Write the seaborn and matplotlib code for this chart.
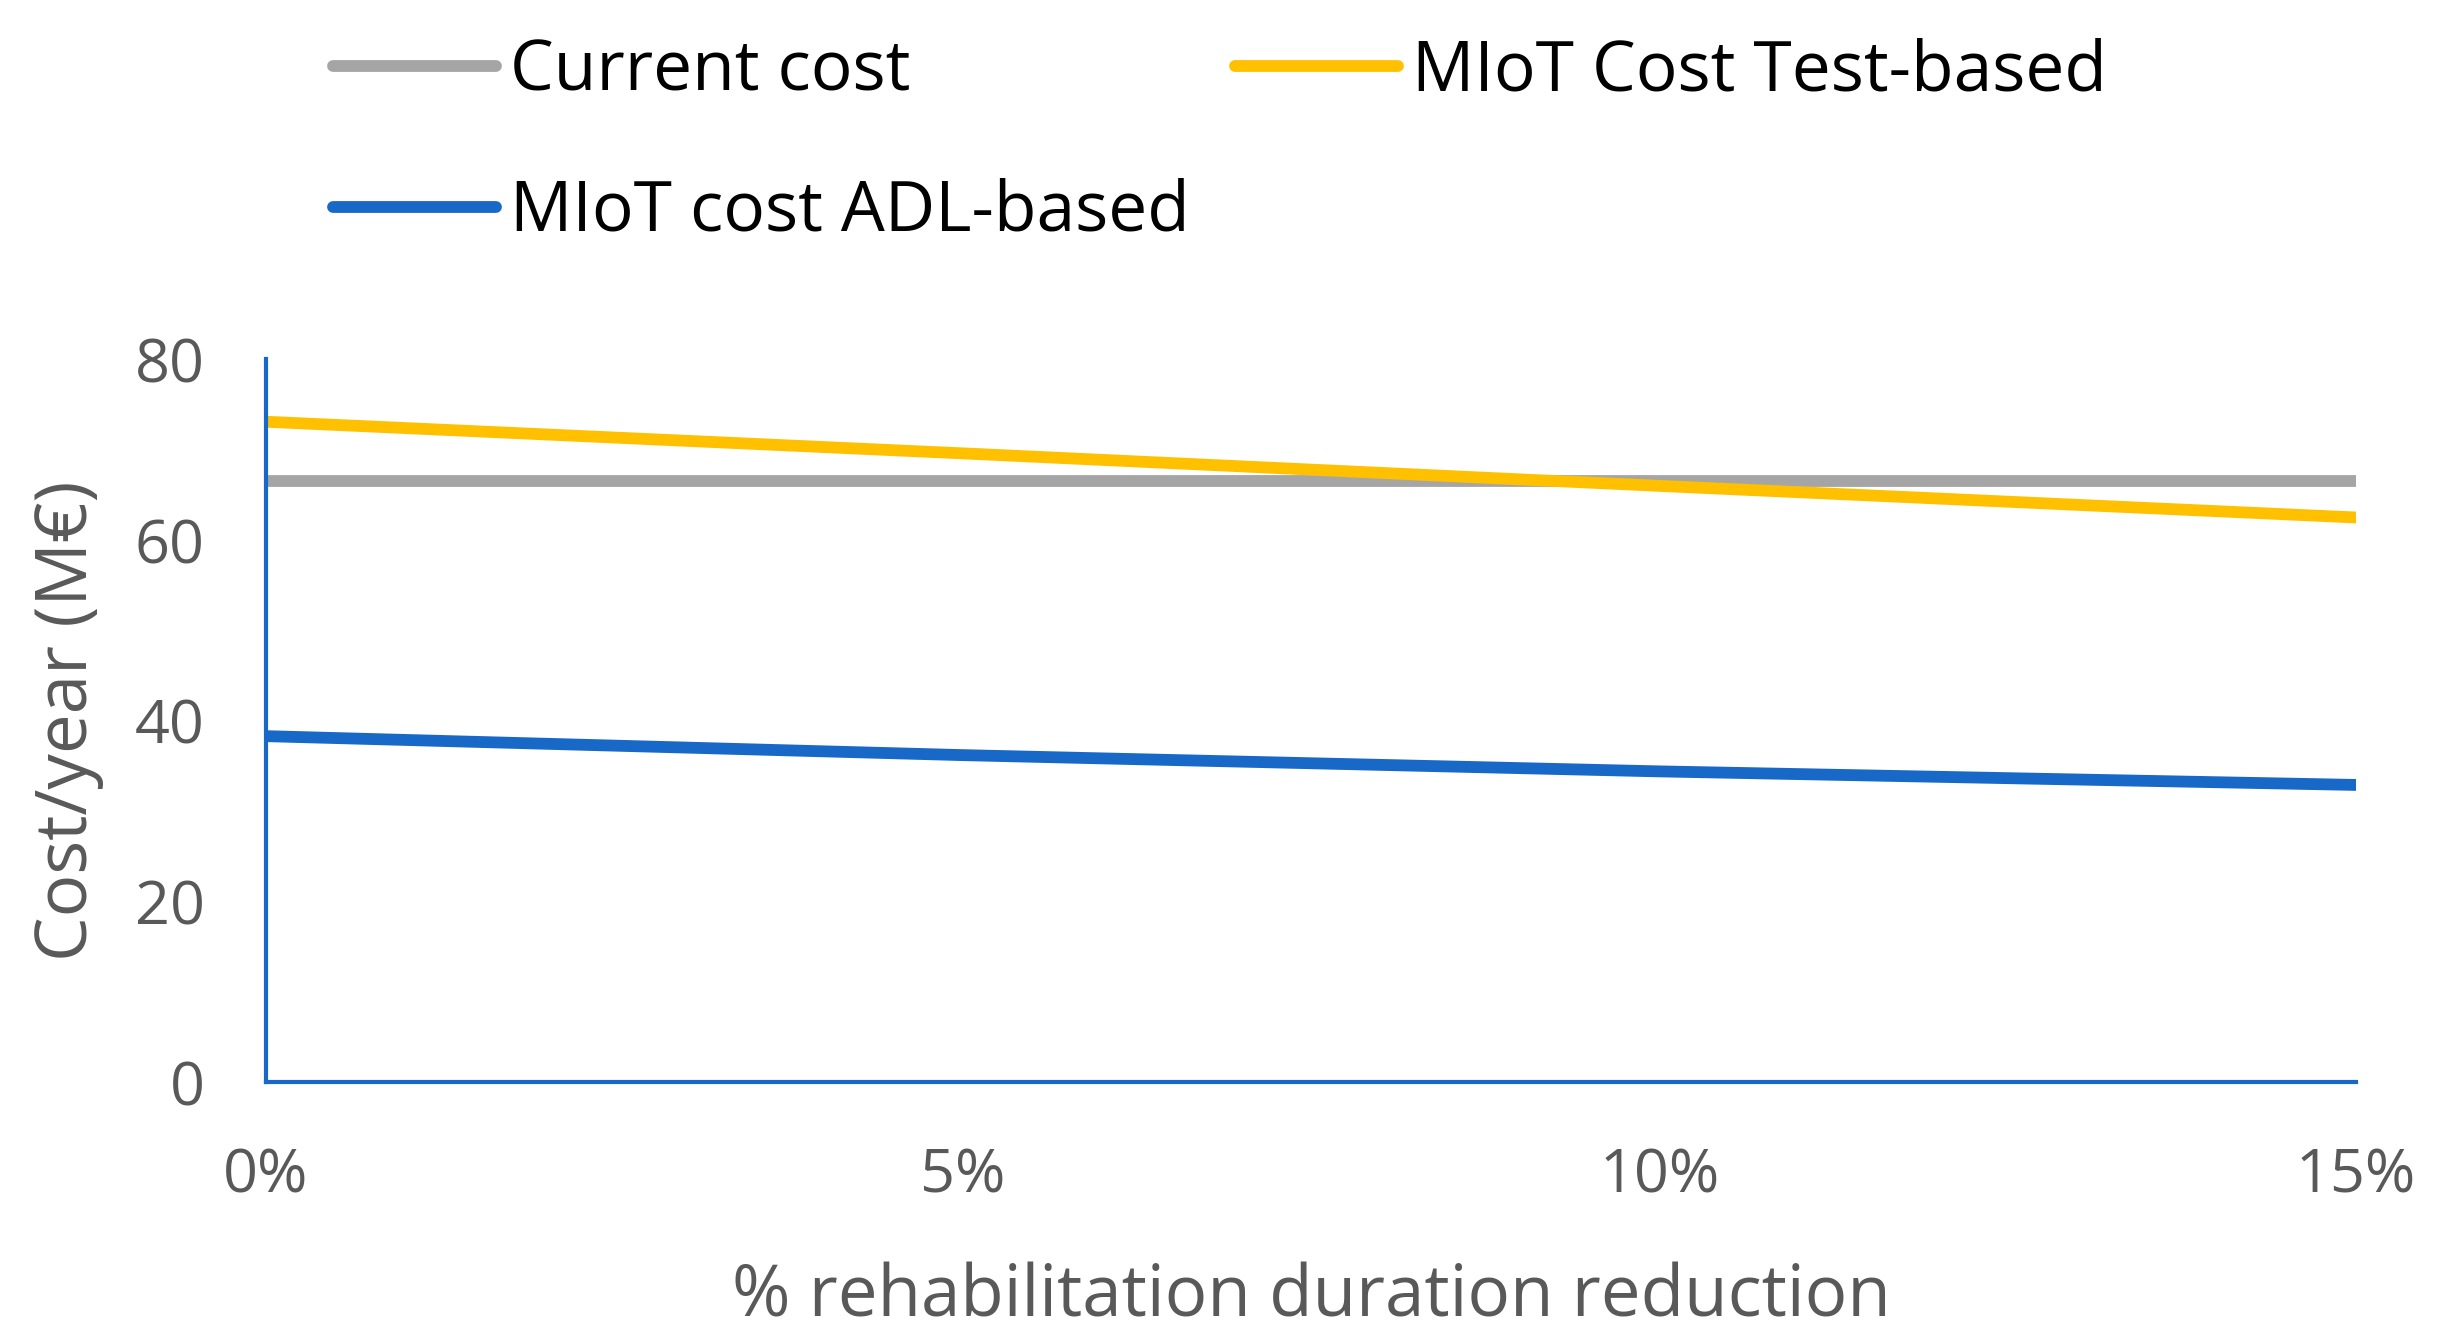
import matplotlib
matplotlib.use("Agg")
import matplotlib.pyplot as plt
import seaborn as sns
import pandas as pd

reduction = [0, 5, 10, 15]
tick_labels = ["0%", "5%", "10%", "15%"]
current_cost = [66.5, 66.5, 66.5, 66.5]
miot_test = [73.1, 69.6, 66.0, 62.5]
miot_adl = [38.3, 36.2, 34.4, 32.9]

series_names = ["Current cost", "MIoT Cost Test-based", "MIoT cost ADL-based"]
colors = {"Current cost": "#A5A5A5",
          "MIoT Cost Test-based": "#FFC000",
          "MIoT cost ADL-based": "#1768C7"}

rows = []
for name, vals in zip(series_names, [current_cost, miot_test, miot_adl]):
    for x, v in zip(reduction, vals):
        rows.append({"reduction": x, "cost": v, "series": name})
df = pd.DataFrame(rows)

sns.set_theme(style="white")
plt.rcParams['font.family'] = ['Open Sans', 'DejaVu Sans']

fig = plt.figure(figsize=(24.39, 13.41), dpi=100)
ax = fig.add_axes([0.109, 0.193, 0.857, 0.539])

sns.lineplot(data=df, x="reduction", y="cost", hue="series",
             hue_order=series_names, palette=colors, linewidth=8.5,
             solid_capstyle="round", ax=ax, legend=True)

ax.set_xlim(0, 15)
ax.set_ylim(0, 80)
ax.set_xticks(reduction)
ax.set_xticklabels(tick_labels)
ax.set_yticks([0, 20, 40, 60, 80])

for s in ["top", "right"]:
    ax.spines[s].set_visible(False)
for s in ["left", "bottom"]:
    ax.spines[s].set_color("#1768C7")
    ax.spines[s].set_linewidth(3)

ax.tick_params(axis="both", length=0, labelsize=44, labelcolor="#595959")
ax.tick_params(axis="x", pad=46)
ax.tick_params(axis="y", pad=44)

ax.set_xlabel("% rehabilitation duration reduction", fontsize=51,
              color="#595959", labelpad=40)
ax.set_ylabel("Cost/year (M€)", fontsize=51, color="#595959", labelpad=22)

handles, labels = ax.get_legend_handles_labels()
ax.get_legend().remove()
order = [labels.index("Current cost"), labels.index("MIoT cost ADL-based"),
         labels.index("MIoT Cost Test-based")]
handles = [handles[i] for i in order]
labels = [labels[i] for i in order]
leg = fig.legend(handles, labels, loc="upper left",
                 bbox_to_anchor=(0.111, 1.019), ncol=2, frameon=False,
                 fontsize=50, handlelength=2.35, handletextpad=0.2,
                 columnspacing=0.65, labelspacing=1.02)
for t in leg.get_texts():
    t.set_color("black")
for h in leg.legend_handles:
    h.set_linewidth(8.5)

fig.savefig("out.png", dpi=100)
